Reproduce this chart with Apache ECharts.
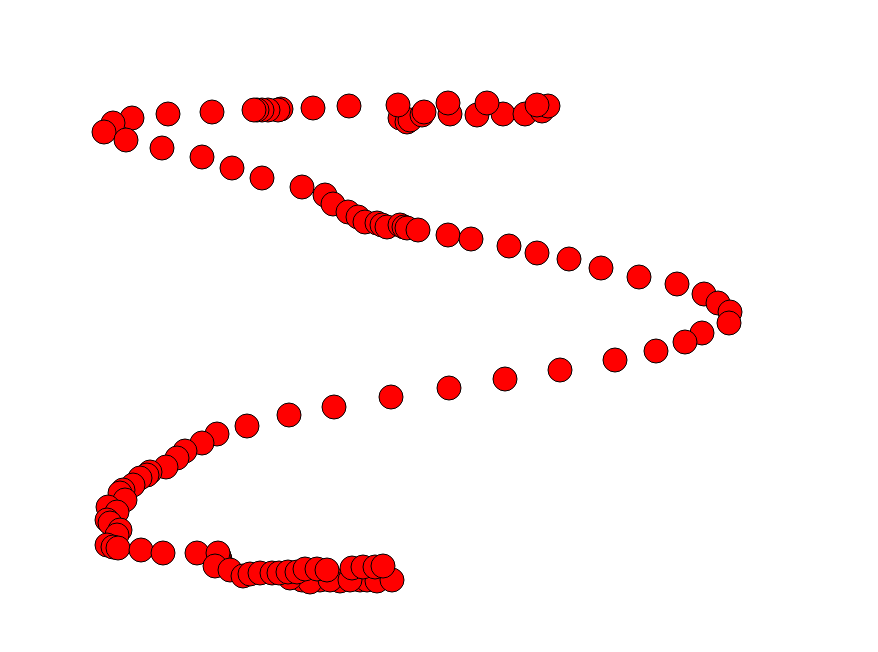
<!DOCTYPE html>
<html>
<head>
<meta charset="utf-8">
<script src="https://cdn.jsdelivr.net/npm/echarts@6/dist/echarts.min.js"></script>
<style>html,body{margin:0;padding:0;background:#fff}#c{width:878px;height:652px}</style>
</head>
<body>
<div id="c"></div>
<script>
// Points (x grows right, y grows downward)
const xValues = [
  // bottom row, back
  302, 320, 340, 360, 367, 377, 392, 310, 330, 350, 290,
  // top row right part
  477, 503, 525, 542, 548, 537, 487, 450, 448,
  // top row left cluster
  400, 407, 410, 422, 424, 398,
  // top row left part
  349, 313, 281, 278, 268, 262, 257, 254, 212, 168, 132, 113, 104,
  // upper diagonal
  126, 162, 202, 232, 262, 302, 325, 333, 348, 358, 365, 377, 382, 387, 400, 404, 407, 418,
  448, 471, 509, 537, 569, 601, 639, 677, 704, 718, 730, 729,
  // lower diagonal
  702, 685, 656, 615, 560, 505, 449, 391, 334, 289, 247, 217, 202, 185, 177, 166, 150, 147, 140, 133, 123, 120, 125,
  108, 117, 107, 110, 120, 117, 107, 113, 118,
  // bottom row
  141, 163, 197, 220, 219, 218, 215, 230, 243, 250, 260, 272, 279, 288, 297, 305, 317, 327, 352, 363, 375, 383
];
const yValues = [
  580, 580, 581, 580, 580, 581, 580, 582, 580, 580, 578,
  115, 114, 114, 111, 106, 105, 103, 114, 103,
  118, 122, 120, 115, 112, 105,
  106, 108, 109, 110, 110, 110, 110, 110, 112, 114, 118, 123, 132,
  140, 148, 157, 168, 178, 187, 195, 204, 212, 217, 222, 223, 225, 227, 225, 227, 228, 230,
  235, 239, 246, 253, 259, 268, 277, 284, 294, 303, 312, 323,
  333, 342, 351, 360, 370, 379, 388, 397, 407, 415, 426, 434, 443, 451, 458, 467, 472, 475, 478, 485, 490, 493, 500,
  507, 512, 520, 523, 530, 535, 545, 547, 548,
  550, 553, 553, 559, 556, 553, 566, 570, 576, 574, 573, 573, 573, 572, 572, 569, 569, 570, 568, 567, 567, 566
];
const points = xValues.map((x, i) => [x, yValues[i]]);

const chart = echarts.init(document.getElementById('c'));
chart.setOption({
  animation: false,
  backgroundColor: '#ffffff',
  grid: { left: 0, right: 0, top: 0, bottom: 0 },
  xAxis: { type: 'value', min: 0, max: 878, show: false },
  yAxis: { type: 'value', min: 0, max: 652, inverse: true, show: false },
  series: [{
    type: 'scatter',
    data: points,
    symbol: 'circle',
    symbolSize: 24,
    itemStyle: { color: '#ff0000', borderColor: '#000000', borderWidth: 1, opacity: 1 }
  }]
});
</script>
</body>
</html>
